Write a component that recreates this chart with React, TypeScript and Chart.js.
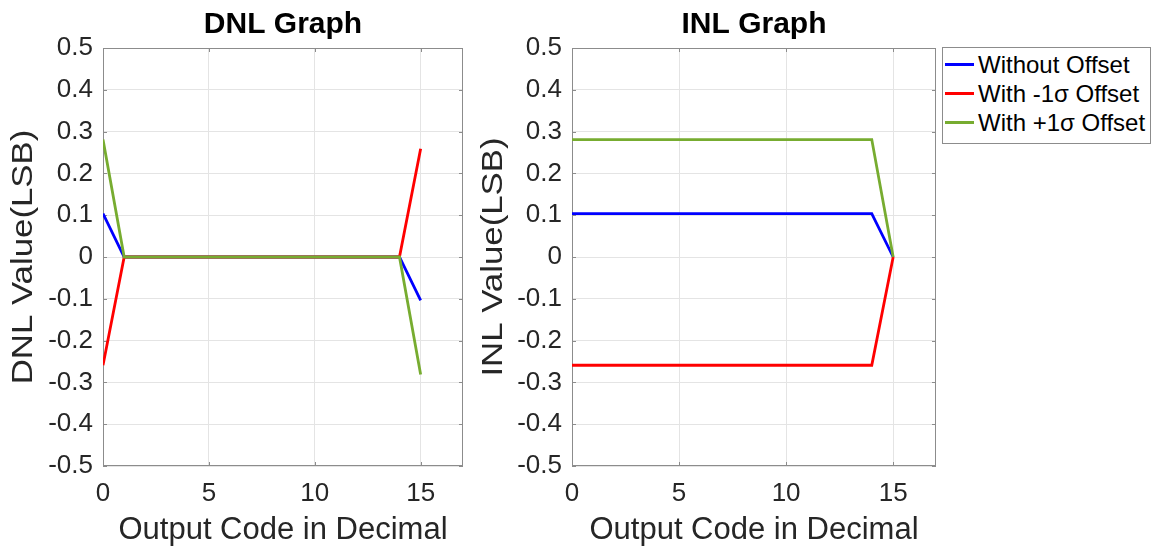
import React, { useEffect, useRef } from "react";
import { Chart, registerables } from "chart.js";

Chart.register(...registerables);

// ---------- data ----------
const codes = [0, 1, 2, 3, 4, 5, 6, 7, 8, 9, 10, 11, 12, 13, 14, 15];
const xTickValues = [0, 5, 10, 15];
const yTickValues = [-0.5, -0.4, -0.3, -0.2, -0.1, 0, 0.1, 0.2, 0.3, 0.4, 0.5];

const seriesNames = ["Without Offset", "With -1σ Offset", "With +1σ Offset"];
const seriesColors = ["#0000FF", "#FF0000", "#77AC30"];

const dnlWithout = [0.104, 0, 0, 0, 0, 0, 0, 0, 0, 0, 0, 0, 0, 0, 0, -0.104];
const dnlMinus = [-0.259, 0, 0, 0, 0, 0, 0, 0, 0, 0, 0, 0, 0, 0, 0, 0.259];
const dnlPlus = [0.281, 0, 0, 0, 0, 0, 0, 0, 0, 0, 0, 0, 0, 0, 0, -0.281];

const inlWithout = [0.104, 0.104, 0.104, 0.104, 0.104, 0.104, 0.104, 0.104, 0.104, 0.104, 0.104, 0.104, 0.104, 0.104, 0.104, 0];
const inlMinus = [-0.259, -0.259, -0.259, -0.259, -0.259, -0.259, -0.259, -0.259, -0.259, -0.259, -0.259, -0.259, -0.259, -0.259, -0.259, 0];
const inlPlus = [0.281, 0.281, 0.281, 0.281, 0.281, 0.281, 0.281, 0.281, 0.281, 0.281, 0.281, 0.281, 0.281, 0.281, 0.281, 0];

// ---------- styling ----------
const FAMILY = "'Liberation Sans', Arial, Helvetica, sans-serif";
const TEXT = "#262626";
const GRID = "#e4e4e4";
const BOX = "#8c8c8c";

const boxPlugin = {
  id: "matlabBox",
  beforeDatasetsDraw(chart: any) {
    const { ctx, chartArea: a, scales } = chart;
    ctx.save();
    ctx.strokeStyle = BOX;
    ctx.lineWidth = 1;
    ctx.strokeRect(a.left + 0.5, a.top + 0.5, a.right - a.left - 1, a.bottom - a.top - 1);
    const tl = 4;
    ctx.beginPath();
    scales.x.ticks.forEach((t: any) => {
      const px = Math.round(scales.x.getPixelForValue(t.value)) + 0.5;
      ctx.moveTo(px, a.bottom);
      ctx.lineTo(px, a.bottom - tl);
      ctx.moveTo(px, a.top);
      ctx.lineTo(px, a.top + tl);
    });
    scales.y.ticks.forEach((t: any) => {
      const py = Math.round(scales.y.getPixelForValue(t.value)) + 0.5;
      ctx.moveTo(a.left, py);
      ctx.lineTo(a.left + tl, py);
      ctx.moveTo(a.right, py);
      ctx.lineTo(a.right - tl, py);
    });
    ctx.stroke();
    ctx.restore();
  },
  afterDraw(chart: any, _args: any, opts: any) {
    if (!opts || !opts.text) return;
    const { ctx, chartArea: a } = chart;
    ctx.save();
    ctx.translate(opts.x, (a.top + a.bottom) / 2);
    ctx.rotate(-Math.PI / 2);
    ctx.scale(opts.stretch, 1);
    ctx.font = `${opts.size}px ${FAMILY}`;
    ctx.fillStyle = TEXT;
    ctx.textAlign = "center";
    ctx.textBaseline = "middle";
    ctx.fillText(opts.text, 0, 0);
    ctx.restore();
  },
};

function makeConfig(
  title: string,
  yTitle: string,
  series: number[][],
  yAxisWidth: number,
  padRight: number,
  yTitleX: number
): any {
  return {
    type: "line",
    data: {
      datasets: series.map((vals, i) => ({
        label: seriesNames[i],
        data: codes.map((c, j) => ({ x: c, y: vals[j] })),
        borderColor: seriesColors[i],
        backgroundColor: seriesColors[i],
        borderWidth: 2.8,
        pointRadius: 0,
        tension: 0,
        fill: false,
        order: series.length - 1 - i,
      })),
    },
    options: {
      animation: false,
      responsive: false,
      maintainAspectRatio: false,
      layout: { padding: { left: 0, right: padRight, top: 0, bottom: 0 } },
      plugins: {
        legend: { display: false },
        tooltip: { enabled: false },
        title: {
          display: true,
          fullSize: false,
          text: title,
          color: "#000000",
          font: { family: FAMILY, size: 30, weight: "bold" },
          padding: { top: 6.5, bottom: 5.5 },
        },
        matlabBox: { text: yTitle, x: yTitleX, size: 30, stretch: 1.16 },
      },
      scales: {
        x: {
          type: "linear",
          min: 0,
          max: 17,
          afterBuildTicks: (s: any) => {
            s.ticks = xTickValues.map((v) => ({ value: v }));
          },
          afterFit: (s: any) => {
            s.height = 83;
          },
          ticks: {
            color: TEXT,
            font: { family: FAMILY, size: 26 },
            padding: 12,
            maxRotation: 0,
            autoSkip: false,
            callback: (v: any) => String(v),
          },
          grid: { color: GRID, drawTicks: false, lineWidth: 1 },
          border: { display: false },
          title: {
            display: true,
            text: "Output Code in Decimal",
            color: TEXT,
            font: { family: FAMILY, size: 31 },
            padding: { top: 0, bottom: 0 },
          },
        },
        y: {
          type: "linear",
          min: -0.5,
          max: 0.5,
          afterBuildTicks: (s: any) => {
            s.ticks = yTickValues.map((v) => ({ value: v }));
          },
          afterFit: (s: any) => {
            s.width = yAxisWidth;
          },
          ticks: {
            color: TEXT,
            font: { family: FAMILY, size: 26 },
            padding: 10,
            autoSkip: false,
            callback: (v: any) => {
              const r = Math.round(Number(v) * 10) / 10;
              return r === 0 ? "0" : String(r);
            },
          },
          grid: { color: GRID, drawTicks: false, lineWidth: 1 },
          border: { display: false },
          title: { display: false },
        },
      },
    },
    plugins: [boxPlugin],
  };
}

function ChartCanvas(props: { config: () => any; left: number; width: number }) {
  const ref = useRef<HTMLCanvasElement | null>(null);
  useEffect(() => {
    if (!ref.current) return;
    const chart = new Chart(ref.current, props.config());
    return () => chart.destroy();
  }, []);
  return (
    <canvas
      ref={ref}
      width={props.width}
      height={549}
      style={{ position: "absolute", left: props.left, top: 0, width: props.width, height: 549 }}
    />
  );
}

export default function App() {
  return (
    <div
      style={{
        position: "fixed",
        left: 0,
        top: 0,
        width: 1160,
        height: 549,
        background: "#ffffff",
        overflow: "hidden",
      }}
    >
      <ChartCanvas
        left={0}
        width={480}
        config={() => makeConfig("DNL Graph", "DNL Value(LSB)", [dnlWithout, dnlMinus, dnlPlus], 103, 17, 23.5)}
      />
      <ChartCanvas
        left={474}
        width={486}
        config={() => makeConfig("INL Graph", "INL Value(LSB)", [inlWithout, inlMinus, inlPlus], 98, 24, 20)}
      />
      <div
        style={{
          position: "absolute",
          left: 942,
          top: 47,
          width: 207,
          height: 93,
          border: "1px solid #8c8c8c",
          background: "#ffffff",
          paddingTop: 2,
          boxSizing: "content-box",
          fontFamily: FAMILY,
          fontSize: 24,
          color: "#000000",
        }}
      >
        {seriesNames.map((name, i) => (
          <div
            key={name}
            style={{ height: 29, lineHeight: "29px", display: "flex", alignItems: "center", whiteSpace: "nowrap" }}
          >
            <span
              style={{
                display: "inline-block",
                width: 29,
                height: 3,
                background: seriesColors[i],
                marginLeft: 2,
                marginRight: 4,
              }}
            />
            <span>{name}</span>
          </div>
        ))}
      </div>
    </div>
  );
}
